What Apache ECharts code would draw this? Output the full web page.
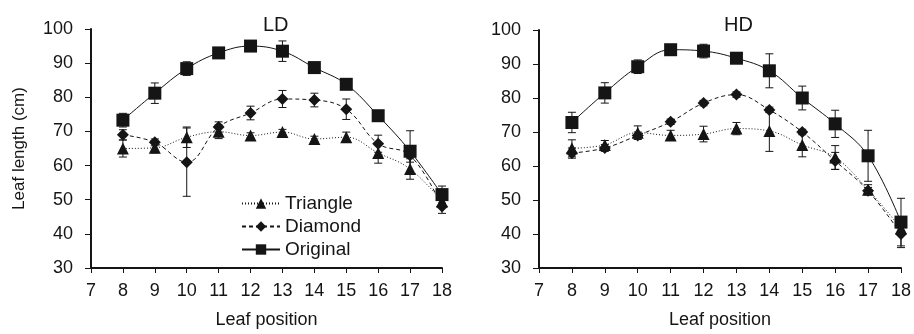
<!DOCTYPE html>
<html>
<head>
<meta charset="utf-8">
<script src="https://cdn.jsdelivr.net/npm/echarts@6/dist/echarts.min.js"></script>
<style>
  html, body { margin: 0; padding: 0; background: #fff; }
  #chart { width: 914px; height: 334px; }
</style>
</head>
<body>
<div id="chart"></div>
<script>
// leaf positions
const positions = [8, 9, 10, 11, 12, 13, 14, 15, 16, 17, 18]

// LD panel
const ldTriangle = [65, 65.2, 68.3, 69.9, 68.8, 69.8, 67.8, 68.3, 63.7, 59, 49.5]
const ldTriangleErr = [2.5, 1.5, 3, 2, 0.8, 0.8, 0.8, 1.5, 3, 3, 1.5]
const ldDiamond = [69, 66.8, 61, 71.3, 75.4, 79.5, 79.2, 76.5, 66.4, 63, 48]
const ldDiamondErr = [1.5, 1, 10, 1.5, 2, 2.5, 2, 3, 2.5, 2, 2]
const ldOriginal = [73.3, 81.2, 88.4, 93, 95, 93.5, 88.7, 83.8, 74.6, 64.2, 51.5]
const ldOriginalErr = [2, 3, 2, 1, 1, 3, 1, 0.8, 1.5, 6, 2.5]

// HD panel
const hdTriangle = [65.2, 66.2, 69.8, 69, 69.4, 71, 70.3, 66.2, 62.5, 53, 41.7]
const hdTriangleErr = [2.5, 1.3, 2, 1.5, 2.3, 1.8, 6, 3.5, 3.5, 1.5, 1.5]
const hdDiamond = [63.8, 65.3, 69, 73, 78.5, 81, 76.5, 70, 61.5, 52.7, 40]
const hdDiamondErr = [1.5, 1, 1, 0.8, 0.8, 0.8, 0.8, 0.8, 2.5, 1, 4]
const hdOriginal = [72.8, 81.5, 89.2, 94.2, 93.8, 91.7, 88, 80, 72.4, 63, 43.5]
const hdOriginalErr = [3, 3, 2, 1.5, 2, 1, 5, 3.5, 4, 7.5, 7]

const xTicks = [7, 8, 9, 10, 11, 12, 13, 14, 15, 16, 17, 18]
const yTicks = [30, 40, 50, 60, 70, 80, 90, 100]

const font = 'Liberation Sans, Arial, sans-serif'
const ink = '#151515'

function pairs(vals) {
  return positions.map((x, i) => [x, vals[i]])
}

function errData(vals, errs) {
  return positions.map((x, i) => [x, vals[i] - errs[i], vals[i] + errs[i]])
}

function errorBars(idx, key, vals, errs) {
  return {
    type: 'custom',
    name: 'err-' + key,
    xAxisIndex: idx,
    yAxisIndex: idx,
    silent: true,
    z: 1,
    data: errData(vals, errs),
    renderItem(params, api) {
      const lo = api.coord([api.value(0), api.value(1)])
      const hi = api.coord([api.value(0), api.value(2)])
      const w = 4
      const st = { stroke: ink, lineWidth: 1 }
      return {
        type: 'group',
        children: [
          { type: 'line', shape: { x1: lo[0], y1: lo[1], x2: hi[0], y2: hi[1] }, style: st },
          { type: 'line', shape: { x1: lo[0] - w, y1: lo[1], x2: lo[0] + w, y2: lo[1] }, style: st },
          { type: 'line', shape: { x1: hi[0] - w, y1: hi[1], x2: hi[0] + w, y2: hi[1] }, style: st }
        ]
      }
    }
  }
}

function lineSeries(idx, name, vals, symbol, size, lineType) {
  return {
    type: 'line',
    name: name,
    xAxisIndex: idx,
    yAxisIndex: idx,
    data: pairs(vals),
    smooth: 0.4,
    symbol: symbol,
    symbolSize: size,
    z: 3,
    itemStyle: { color: ink },
    lineStyle: { color: ink, width: 1, type: lineType }
  }
}

function xAxis(idx) {
  return {
    type: 'value',
    gridIndex: idx,
    min: xTicks[0], max: xTicks[xTicks.length - 1], interval: 1,
    name: 'Leaf position',
    nameLocation: 'middle',
    nameGap: 43,
    nameTextStyle: { fontFamily: font, fontSize: 18, color: ink },
    axisLine: { lineStyle: { color: ink, width: 2 } },
    axisTick: { inside: false, length: 5, lineStyle: { color: ink } },
    axisLabel: { fontFamily: font, fontSize: 18, color: ink, margin: 14 },
    splitLine: { show: false }
  }
}

function yAxis(idx, withName) {
  return {
    type: 'value',
    gridIndex: idx,
    min: yTicks[0], max: yTicks[yTicks.length - 1], interval: 10,
    name: withName ? 'Leaf length (cm)' : '',
    nameLocation: 'middle',
    nameGap: 63,
    nameTextStyle: { fontFamily: font, fontSize: 17, color: ink },
    axisLine: { show: true, lineStyle: { color: ink, width: 2 } },
    axisTick: { show: true, inside: false, length: 6, lineStyle: { color: ink } },
    axisLabel: { fontFamily: font, fontSize: 18, color: ink, margin: 18 },
    splitLine: { show: false }
  }
}

const chart = echarts.init(document.getElementById('chart'))

chart.setOption({
  animation: false,
  backgroundColor: '#fff',
  title: [
    { text: 'LD', left: 258, top: 10, textStyle: { fontFamily: font, fontSize: 20, fontWeight: 'normal', color: ink } },
    { text: 'HD', left: 719, top: 10, textStyle: { fontFamily: font, fontSize: 20, fontWeight: 'normal', color: ink } }
  ],
  legend: {
    data: ['Triangle', 'Diamond', 'Original'],
    orient: 'vertical',
    left: 236,
    top: 189,
    itemWidth: 38,
    itemHeight: 13,
    itemGap: 4,
    textStyle: { fontFamily: font, fontSize: 19, color: ink }
  },
  grid: [
    { left: 91, top: 29, width: 351, height: 240 },
    { left: 539, top: 30, width: 362, height: 241 }
  ],
  xAxis: [xAxis(0), xAxis(1)],
  yAxis: [yAxis(0, true), yAxis(1, false)],
  series: [
    errorBars(0, 'ldT', ldTriangle, ldTriangleErr),
    errorBars(0, 'ldD', ldDiamond, ldDiamondErr),
    errorBars(0, 'ldO', ldOriginal, ldOriginalErr),
    lineSeries(0, 'Triangle', ldTriangle, 'triangle', 12, [1, 2]),
    lineSeries(0, 'Diamond', ldDiamond, 'diamond', 12, [4, 3]),
    lineSeries(0, 'Original', ldOriginal, 'rect', 13, 'solid'),
    errorBars(1, 'hdT', hdTriangle, hdTriangleErr),
    errorBars(1, 'hdD', hdDiamond, hdDiamondErr),
    errorBars(1, 'hdO', hdOriginal, hdOriginalErr),
    lineSeries(1, 'Triangle', hdTriangle, 'triangle', 12, [1, 2]),
    lineSeries(1, 'Diamond', hdDiamond, 'diamond', 12, [4, 3]),
    lineSeries(1, 'Original', hdOriginal, 'rect', 13, 'solid')
  ]
})
</script>
</body>
</html>
